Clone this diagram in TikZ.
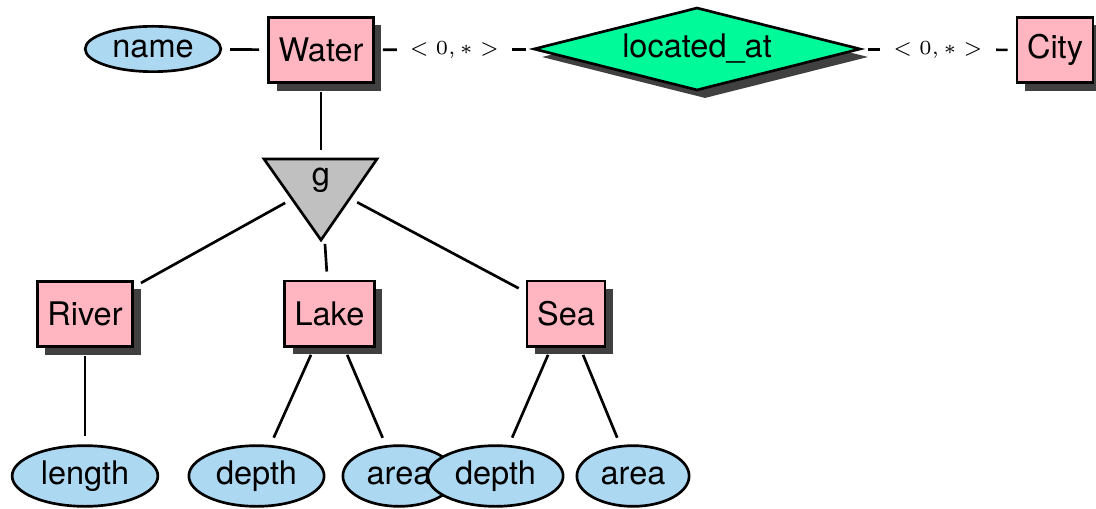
\documentclass[tikz,border=0pt]{standalone}
\usepackage{fontspec}
\setmainfont{TeX Gyre Heros}
\usetikzlibrary{shapes.geometric,shadows}
\definecolor{entpink}{RGB}{255,182,193}
\definecolor{attblue}{RGB}{173,216,242}
\definecolor{relgreen}{RGB}{0,250,154}
\definecolor{isagray}{RGB}{192,192,192}
\definecolor{shadowc}{RGB}{64,64,64}
\begin{document}
\begin{tikzpicture}[x=0.3pt,y=-0.3pt,line width=0.8pt,
  font=\fontsize{9.75}{11}\selectfont,
  myshadow/.style={drop shadow={shadow xshift=2.4pt,shadow yshift=-2.4pt,fill=shadowc,opacity=1}},
  entity/.style={draw,fill=entpink,rectangle,minimum height=19.6pt,inner xsep=3pt,inner ysep=0pt,myshadow},
  attr/.style={draw,fill=attblue,ellipse,inner xsep=2.2pt,inner ysep=0pt,minimum height=13.6pt},
  attrlow/.style={attr,minimum height=18.2pt},
  rel/.style={draw,fill=relgreen,diamond,aspect=3.8,inner sep=0pt,minimum width=98.1pt,minimum height=24.9pt,myshadow},
  link/.style={shorten >=2.4pt,shorten <=2.4pt},
  card/.style={fill=white,inner xsep=3.9pt,inner ysep=1pt,font=\fontsize{5.9}{7}\selectfont}]
\clip (0,0) rectangle (1096,508);
% top row
\node[attr] (name) at (153,49) {name};
\node[entity] (Water) at (321,50) {Water};
\node[rel] (loc) at (697,49) {located\_at};
\node[entity] (City) at (1055,50) {City};
% isa triangle
\draw[fill=isagray] (264,159) -- (377,159) -- (321,240) -- cycle;
\coordinate (g) at (321,183);
\node[anchor=base,inner sep=0pt] (glabel) at (321,186) {g};
% middle row
\node[entity] (River) at (85,314) {River};
\node[entity] (Lake) at (329.5,313.5) {Lake};
\node[entity] (Sea) at (566,313.5) {Sea};
% bottom row
\node[attrlow] (length) at (85,476) {length};
\node[attrlow] (depthA) at (256.5,476) {depth};
\node[attrlow] (areaA) at (399,476) {area};
\node[attrlow] (depthB) at (495.5,476) {depth};
\node[attrlow] (areaB) at (633,476) {area};
% connectors
\draw[link] (name) -- (Water);
\draw[link] (Water) -- node[card] (cardA) {$<0,*>$} (loc);
\draw[link] (loc) -- node[card] (cardB) {$<0,*>$} (City);
\draw[shorten <=2.4pt,shorten >=9.9pt] (Water) -- (g);
\draw[shorten <=12.3pt,shorten >=2.4pt] (g) -- (River);
\draw[shorten <=18.3pt,shorten >=2.4pt] (g) -- (Lake);
\draw[shorten <=12.3pt,shorten >=2.4pt] (g) -- (Sea);
\draw[link] (River) -- (length);
\draw[link] (Lake) -- (depthA);
\draw[link] (Lake) -- (areaA);
\draw[link] (Sea) -- (depthB);
\draw[link] (Sea) -- (areaB);
\end{tikzpicture}
\end{document}
